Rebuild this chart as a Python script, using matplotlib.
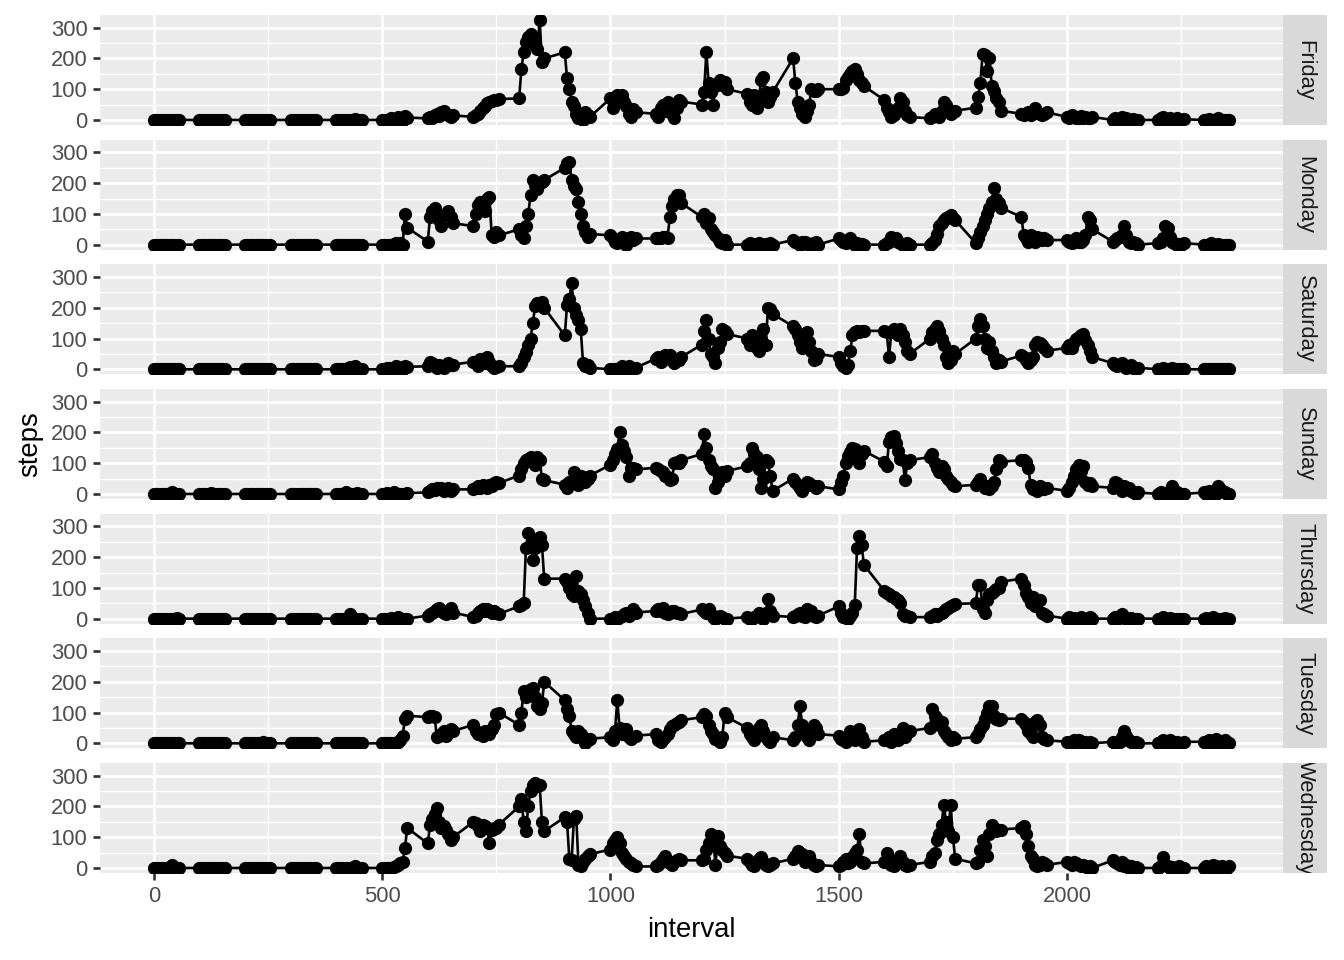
import matplotlib.pyplot as plt
import numpy as np

plt.rcParams['font.family'] = ['Liberation Sans', 'DejaVu Sans']

# interval ids are HHMM, 5 minute steps
hours = list(range(24))
minutes = [0, 5, 10, 15, 20, 25, 30, 35, 40, 45, 50, 55]
interval = [h * 100 + m for h in hours for m in minutes]

days = ["Friday", "Monday", "Saturday", "Sunday", "Thursday", "Tuesday", "Wednesday"]

# average steps per interval, one row per hour
friday = [
    0, 0, 0, 0, 0, 0, 0, 0, 0, 0, 0, 0,
    0, 0, 0, 0, 0, 0, 0, 0, 0, 0, 0, 0,
    0, 0, 0, 0, 0, 0, 0, 0, 0, 0, 0, 0,
    0, 0, 0, 0, 0, 0, 0, 0, 0, 0, 0, 0,
    0, 0, 0, 0, 0, 0, 0, 0, 3, 0, 0, 0,
    0, 0, 0, 0, 5, 0, 0, 10, 0, 0, 12, 8,
    5, 10, 8, 15, 20, 12, 25, 30, 20, 15, 10, 15,
    10, 15, 20, 30, 40, 45, 55, 60, 62, 65, 65, 68,
    70, 165, 220, 255, 270, 280, 260, 245, 230, 325, 190, 200,
    220, 135, 100, 60, 45, 20, 5, 15, 0, 25, 15, 10,
    70, 40, 55, 80, 75, 80, 60, 45, 20, 10, 35, 25,
    20, 10, 40, 50, 30, 60, 45, 20, 5, 40, 65, 60,
    50, 90, 220, 120, 90, 50, 110, 120, 130, 115, 125, 100,
    85, 60, 50, 80, 40, 70, 130, 140, 90, 60, 75, 90,
    200, 120, 60, 40, 20, 10, 30, 50, 100, 95, 95, 100,
    100, 100, 105, 130, 140, 150, 160, 165, 150, 130, 120, 110,
    65, 40, 25, 10, 15, 30, 40, 70, 60, 30, 15, 10,
    5, 10, 20, 15, 10, 30, 60, 50, 35, 20, 25, 30,
    40, 75, 120, 215, 210, 160, 200, 110, 95, 70, 60, 30,
    20, 15, 20, 25, 15, 30, 40, 25, 20, 15, 20, 25,
    10, 5, 15, 10, 5, 8, 12, 5, 10, 5, 8, 10,
    0, 5, 0, 3, 10, 0, 5, 0, 0, 2, 0, 0,
    0, 5, 10, 0, 3, 8, 0, 0, 5, 0, 0, 2,
    0, 0, 3, 0, 0, 0, 5, 0, 0, 0, 0, 0,
]

monday = [
    0, 0, 0, 0, 0, 0, 0, 0, 0, 0, 0, 0,
    0, 0, 0, 0, 0, 0, 0, 0, 0, 0, 0, 0,
    0, 0, 0, 0, 0, 0, 0, 0, 0, 0, 0, 0,
    0, 0, 0, 0, 0, 0, 0, 0, 0, 0, 0, 0,
    0, 0, 0, 0, 0, 0, 0, 0, 0, 0, 0, 0,
    0, 0, 0, 0, 0, 2, 5, 3, 5, 0, 100, 55,
    10, 90, 110, 120, 100, 80, 60, 95, 100, 110, 90, 70,
    60, 100, 130, 140, 120, 110, 150, 155, 30, 25, 40, 30,
    50, 30, 20, 60, 100, 160, 210, 195, 180, 200, 205, 210,
    250, 265, 270, 210, 190, 180, 140, 100, 60, 40, 25, 35,
    30, 20, 10, 5, 15, 25, 10, 0, 20, 25, 15, 20,
    20, 20, 22, 25, 25, 22, 90, 125, 150, 160, 160, 135,
    90, 100, 70, 85, 50, 40, 30, 20, 10, 5, 15, 0,
    0, 5, 0, 3, 0, 5, 0, 0, 2, 0, 5, 0,
    15, 10, 5, 0, 8, 10, 5, 0, 3, 5, 8, 0,
    20, 15, 10, 5, 15, 20, 8, 0, 5, 0, 3, 0,
    0, 5, 10, 25, 15, 20, 10, 5, 0, 3, 5, 0,
    0, 5, 15, 35, 60, 70, 80, 85, 90, 95, 85, 80,
    5, 20, 40, 60, 80, 100, 120, 140, 185, 150, 135, 120,
    90, 30, 20, 10, 30, 15, 10, 25, 20, 15, 20, 15,
    15, 10, 5, 10, 20, 10, 10, 15, 30, 90, 80, 50,
    10, 15, 20, 25, 30, 60, 30, 10, 5, 10, 5, 0,
    5, 10, 20, 60, 55, 25, 10, 5, 0, 3, 0, 5,
    0, 0, 0, 5, 0, 0, 3, 0, 0, 0, 0, 0,
]

saturday = [
    0, 0, 0, 0, 0, 0, 0, 0, 0, 0, 0, 0,
    0, 0, 0, 0, 0, 0, 0, 0, 0, 0, 0, 0,
    0, 0, 0, 0, 0, 0, 0, 0, 0, 0, 0, 0,
    0, 0, 0, 0, 0, 0, 0, 0, 0, 0, 0, 0,
    0, 0, 0, 0, 0, 5, 8, 3, 10, 0, 0, 0,
    0, 0, 5, 3, 0, 0, 10, 8, 5, 0, 12, 8,
    10, 25, 20, 10, 5, 15, 8, 5, 15, 20, 15, 15,
    25, 20, 10, 35, 30, 20, 40, 25, 10, 5, 8, 10,
    10, 20, 40, 55, 80, 100, 150, 205, 215, 215, 220, 200,
    110, 210, 230, 280, 200, 175, 160, 130, 20, 10, 15, 5,
    0, 0, 0, 0, 5, 10, 5, 0, 10, 5, 0, 5,
    35, 40, 25, 30, 45, 40, 45, 30, 20, 35, 30, 40,
    80, 125, 160, 100, 50, 40, 20, 70, 90, 130, 125, 115,
    100, 80, 110, 90, 70, 60, 100, 130, 80, 200, 195, 180,
    140, 130, 110, 90, 70, 100, 120, 90, 60, 30, 35, 50,
    40, 20, 10, 5, 15, 60, 110, 120, 125, 120, 125, 125,
    125, 120, 40, 120, 130, 120, 110, 130, 110, 90, 60, 50,
    100, 120, 130, 140, 125, 100, 80, 40, 20, 30, 60, 50,
    100, 140, 165, 140, 100, 70, 90, 60, 40, 20, 30, 25,
    45, 40, 30, 20, 30, 40, 80, 90, 85, 80, 70, 60,
    70, 80, 70, 90, 100, 105, 110, 115, 95, 80, 60, 40,
    20, 15, 10, 15, 20, 10, 5, 10, 15, 5, 0, 5,
    0, 0, 3, 0, 0, 0, 5, 0, 0, 0, 0, 0,
    0, 0, 0, 0, 0, 0, 0, 0, 0, 0, 0, 0,
]

sunday = [
    0, 0, 0, 0, 0, 0, 0, 0, 5, 0, 0, 0,
    0, 0, 0, 0, 0, 3, 0, 0, 0, 0, 0, 0,
    0, 0, 0, 0, 0, 0, 0, 0, 0, 0, 0, 0,
    0, 0, 0, 0, 0, 0, 0, 0, 0, 0, 0, 0,
    0, 0, 0, 0, 5, 0, 0, 0, 0, 3, 0, 0,
    0, 0, 3, 0, 0, 5, 0, 0, 0, 0, 0, 3,
    5, 10, 15, 12, 20, 15, 20, 10, 15, 20, 10, 15,
    15, 20, 25, 20, 30, 25, 20, 30, 25, 35, 40, 35,
    60, 80, 100, 110, 115, 120, 110, 95, 120, 110, 50, 45,
    30, 20, 40, 35, 70, 55, 30, 60, 55, 40, 50, 60,
    95, 110, 130, 145, 200, 160, 140, 120, 60, 85, 85, 80,
    85, 80, 75, 70, 60, 55, 45, 50, 100, 105, 100, 110,
    130, 195, 150, 110, 90, 80, 20, 40, 55, 70, 60, 75,
    90, 100, 150, 130, 120, 80, 20, 50, 110, 105, 60, 10,
    50, 40, 30, 20, 10, 25, 40, 35, 30, 25, 20, 25,
    15, 40, 60, 100, 125, 135, 150, 145, 120, 100, 130, 140,
    105, 90, 170, 185, 190, 165, 140, 115, 110, 45, 100, 110,
    120, 130, 100, 85, 70, 90, 80, 60, 50, 40, 30, 25,
    30, 40, 50, 30, 20, 25, 15, 25, 40, 80, 110, 105,
    110, 110, 105, 85, 30, 15, 20, 10, 25, 20, 15, 20,
    10, 20, 40, 60, 80, 95, 75, 90, 40, 30, 35, 25,
    20, 40, 35, 20, 10, 25, 15, 20, 10, 5, 0, 5,
    0, 5, 0, 3, 0, 0, 25, 0, 5, 0, 0, 0,
    5, 0, 10, 0, 5, 0, 25, 15, 10, 5, 0, 0,
]

thursday = [
    0, 0, 0, 0, 0, 0, 0, 0, 0, 0, 3, 0,
    0, 0, 0, 0, 0, 0, 0, 0, 0, 0, 0, 0,
    0, 0, 0, 0, 0, 0, 0, 0, 0, 0, 0, 0,
    0, 0, 0, 0, 0, 0, 0, 0, 0, 0, 0, 0,
    0, 0, 0, 0, 0, 0, 15, 0, 0, 0, 0, 0,
    0, 0, 0, 0, 3, 0, 0, 5, 0, 0, 0, 0,
    10, 15, 20, 25, 30, 35, 25, 20, 15, 25, 35, 20,
    5, 10, 20, 25, 30, 25, 30, 25, 20, 25, 20, 15,
    40, 45, 50, 230, 280, 240, 190, 230, 260, 265, 240, 130,
    130, 120, 100, 80, 75, 140, 90, 80, 60, 40, 20, 0,
    0, 0, 5, 0, 5, 10, 15, 20, 10, 20, 30, 20,
    25, 30, 25, 35, 20, 15, 20, 25, 25, 20, 20, 15,
    30, 25, 20, 30, 15, 5, 0, 5, 10, 5, 0, 0,
    5, 0, 0, 5, 10, 20, 10, 0, 20, 65, 25, 10,
    5, 10, 15, 20, 10, 5, 30, 20, 25, 10, 5, 10,
    40, 20, 5, 5, 0, 10, 20, 45, 230, 270, 240, 175,
    90, 85, 80, 75, 70, 65, 60, 50, 15, 10, 10, 5,
    5, 10, 15, 10, 15, 20, 25, 30, 35, 40, 45, 48,
    50, 110, 110, 30, 20, 60, 80, 85, 90, 95, 100, 120,
    130, 110, 85, 70, 50, 70, 40, 55, 60, 20, 15, 10,
    0, 5, 0, 3, 0, 0, 5, 0, 0, 0, 5, 0,
    0, 5, 0, 10, 15, 5, 0, 0, 3, 0, 0, 0,
    0, 0, 5, 0, 0, 3, 0, 0, 0, 0, 0, 0,
    0, 3, 0, 0, 5, 0, 0, 0, 0, 3, 0, 0,
]

tuesday = [
    0, 0, 0, 0, 0, 0, 0, 0, 0, 0, 0, 0,
    0, 0, 0, 0, 0, 0, 0, 0, 0, 0, 0, 0,
    0, 0, 0, 0, 0, 0, 0, 0, 3, 0, 0, 0,
    0, 0, 0, 0, 0, 0, 0, 0, 0, 0, 0, 0,
    0, 0, 0, 0, 0, 0, 0, 0, 0, 0, 0, 0,
    0, 0, 0, 0, 0, 0, 0, 5, 10, 25, 80, 90,
    85, 90, 90, 85, 20, 25, 30, 40, 25, 35, 45, 40,
    60, 40, 30, 35, 25, 40, 35, 30, 45, 60, 95, 100,
    60, 100, 170, 150, 160, 175, 180, 150, 120, 110, 130, 200,
    140, 110, 90, 40, 30, 20, 40, 30, 20, 0, 10, 15,
    20, 10, 40, 140, 50, 30, 35, 45, 20, 15, 20, 25,
    30, 10, 5, 15, 20, 30, 45, 55, 60, 65, 70, 75,
    85, 95, 90, 60, 40, 30, 15, 10, 5, 20, 100, 85,
    50, 30, 20, 10, 25, 50, 60, 40, 20, 10, 5, 20,
    10, 20, 60, 120, 60, 40, 20, 10, 40, 60, 50, 30,
    25, 15, 10, 5, 20, 40, 25, 10, 30, 45, 20, 5,
    10, 15, 20, 5, 30, 15, 10, 25, 50, 20, 35, 40,
    50, 110, 90, 80, 60, 70, 40, 30, 20, 10, 20, 15,
    20, 30, 45, 60, 80, 100, 120, 120, 90, 80, 75, 80,
    80, 70, 60, 40, 30, 20, 70, 75, 60, 20, 15, 10,
    5, 0, 5, 10, 5, 10, 5, 0, 5, 0, 3, 0,
    5, 0, 0, 5, 20, 40, 25, 10, 5, 0, 3, 0,
    0, 5, 10, 5, 0, 10, 5, 0, 3, 0, 0, 5,
    5, 0, 10, 0, 5, 15, 5, 0, 5, 10, 5, 0,
]

wednesday = [
    0, 0, 0, 0, 0, 0, 0, 0, 10, 0, 0, 0,
    0, 0, 0, 0, 0, 0, 0, 0, 0, 0, 0, 0,
    0, 0, 0, 0, 0, 0, 0, 0, 0, 0, 0, 0,
    0, 0, 0, 0, 0, 0, 0, 0, 0, 0, 0, 0,
    0, 0, 0, 0, 0, 0, 0, 0, 5, 0, 0, 0,
    0, 0, 0, 0, 0, 3, 5, 10, 15, 20, 65, 130,
    80, 140, 160, 175, 195, 150, 130, 135, 125, 110, 90, 100,
    150, 145, 135, 120, 140, 135, 130, 80, 125, 130, 130, 140,
    200, 225, 150, 120, 200, 250, 270, 275, 265, 270, 150, 120,
    165, 150, 30, 25, 160, 170, 10, 5, 20, 30, 40, 45,
    60, 80, 90, 100, 80, 50, 40, 30, 20, 15, 10, 5,
    5, 10, 20, 30, 40, 20, 15, 10, 20, 25, 30, 25,
    25, 30, 60, 80, 110, 100, 10, 105, 70, 60, 50, 40,
    30, 20, 10, 5, 20, 30, 35, 20, 10, 5, 10, 15,
    30, 40, 55, 50, 45, 20, 25, 40, 20, 10, 5, 10,
    5, 10, 20, 30, 15, 20, 35, 50, 60, 110, 20, 15,
    20, 50, 25, 10, 5, 15, 20, 40, 20, 10, 5, 10,
    20, 40, 50, 90, 110, 140, 205, 150, 120, 205, 100, 30,
    15, 20, 60, 90, 70, 40, 110, 140, 130, 120, 125, 125,
    130, 135, 110, 70, 40, 30, 10, 5, 10, 20, 15, 10,
    20, 15, 10, 20, 15, 10, 5, 10, 5, 0, 5, 0,
    25, 20, 15, 10, 20, 5, 10, 0, 5, 0, 3, 0,
    0, 5, 35, 10, 5, 0, 3, 0, 0, 5, 0, 0,
    0, 5, 0, 0, 10, 5, 0, 0, 5, 0, 0, 5,
]

series = [friday, monday, saturday, sunday, thursday, tuesday, wednesday]

W, H = 1344, 960
fig, axes = plt.subplots(7, 1, figsize=(W / 100, H / 100), dpi=100, sharex=True, sharey=True)
fig.subplots_adjust(left=100 / W, right=1283 / W, top=1 - 15 / H, bottom=1 - 873 / H,
                    hspace=14.7 / 110)

ymax = max(max(s) for s in series)
xspan = max(interval) - min(interval)

for i, (ax, day, steps) in enumerate(zip(axes, days, series)):
    ax.set_facecolor('#EBEBEB')
    ax.plot(interval, steps, color='black', lw=1.9, marker='o', ms=8.5, zorder=3)
    ax.set_xlim(min(interval) - 0.05 * xspan, max(interval) + 0.05 * xspan)
    ax.set_ylim(-0.05 * ymax, 1.05 * ymax)
    ax.set_yticks([0, 100, 200, 300])
    ax.set_yticks([50, 150, 250], minor=True)
    ax.set_xticks([0, 500, 1000, 1500, 2000])
    ax.set_xticks([250, 750, 1250, 1750, 2250], minor=True)
    ax.grid(which='major', color='white', lw=1.9)
    ax.grid(which='minor', color='white', lw=0.95)
    ax.set_axisbelow(True)
    for s in ax.spines.values():
        s.set_visible(False)
    ax.tick_params(which='major', color='#333333', length=5, width=1.9,
                   labelsize=15.8, labelcolor='#4D4D4D', pad=4)
    ax.tick_params(which='minor', length=0)
    if i < len(axes) - 1:
        ax.tick_params(axis='x', which='both', bottom=False, labelbottom=False)

    # facet strip on the right
    pos = ax.get_position()
    sax = fig.add_axes([pos.x1, pos.y0, 44 / W, pos.height])
    sax.set_facecolor('#D9D9D9')
    sax.set_xticks([])
    sax.set_yticks([])
    for s in sax.spines.values():
        s.set_visible(False)
    sax.text(0.5, 0.5, day, rotation=-90, ha='center', va='center', fontsize=15.8,
             color='#1A1A1A', transform=sax.transAxes, clip_on=True)

fig.text(30 / W, 1 - 444 / H, 'steps', rotation=90, ha='center', va='center', fontsize=19.8)
fig.text(691 / W, 1 - 930 / H, 'interval', ha='center', va='center', fontsize=19.8)

fig.savefig('out.png', dpi=100)
